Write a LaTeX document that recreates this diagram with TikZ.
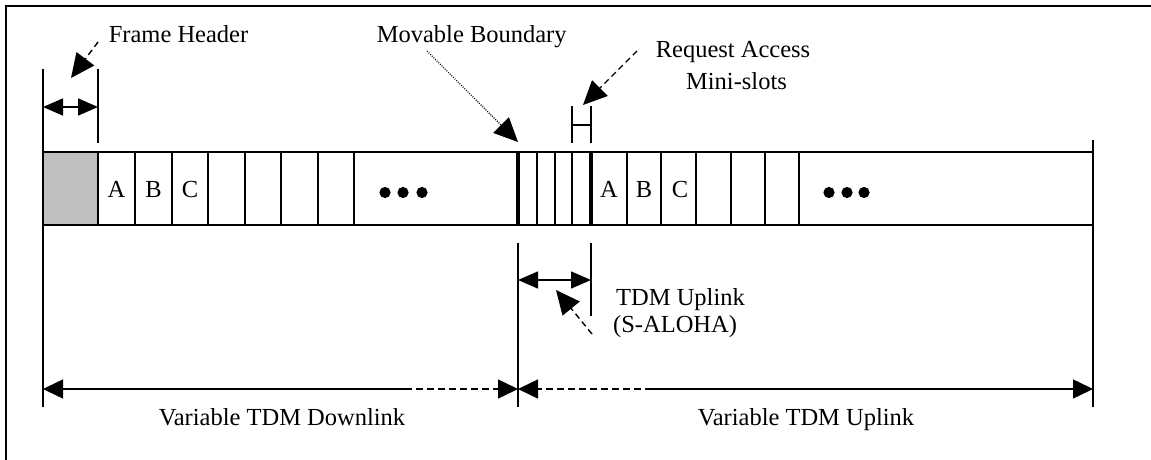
\documentclass[tikz,border=0pt]{standalone}
\usepackage{fontspec}
\setmainfont{Liberation Serif}
\usetikzlibrary{arrows.meta}
\tikzset{
  lbl/.style={font=\fontsize{24.5}{28}\selectfont, inner sep=0pt, anchor=base},
  outline/.style={line width=1.8pt},
  slotline/.style={line width=1.3pt},
  thickline/.style={line width=4.5pt},
  guide/.style={line width=1.5pt},
  dimtip/.style={-{Triangle[length=20pt,width=17pt]}},
  bigtip/.style={-{Triangle[length=20pt,width=19pt]}},
  dashedarr/.style={line width=1.4pt, dash pattern=on 6pt off 4pt, -{Triangle[length=24pt,width=22pt]}},
  dottedarr/.style={line width=1.1pt, dash pattern=on 1pt off 1.3pt, -{Triangle[length=24pt,width=22pt]}},
  dotmark/.style={fill=black, draw=none},
}
\begin{document}
\begin{tikzpicture}[x=1pt,y=-1pt]
\useasboundingbox (0,0) rectangle (1151,460);
% outer frame (top and left edges)
\draw[line width=1.6pt] (6,460) -- (6,6) -- (1151,6);

% header fill
\fill[gray!50] (43,152) rectangle (98,225);
% bar
\draw[outline] (43,152) rectangle (1093,225);
\foreach \x in {98,135,172,208,245,281,318,354,537,555,572,627,661,696,731,765,799}
  \draw[slotline] (\x,152) -- (\x,225);
\draw[thickline] (518,152) -- (518,225);
\draw[thickline] (591,152) -- (591,225);

% slot letters
\node[lbl] (a1) at (116.5,197) {A};
\node[lbl] (b1) at (153.5,197) {B};
\node[lbl] (c1) at (190,197) {C};
\node[lbl] (a2) at (609,197) {A};
\node[lbl] (b2) at (644,197) {B};
\node[lbl] (c2) at (680,197) {C};

% ellipsis dots
\foreach \x in {385,403,422,829,847,864}
  \fill[dotmark] (\x,192.5) circle (5.6);

% guide verticals
\coordinate (hl) at (43,69);
\coordinate (hlb) at (43,407);
\coordinate (hr) at (98,69);
\coordinate (hrb) at (98,143);
\draw[guide] (hl) -- (hlb);
\draw[guide] (hr) -- (hrb);
\coordinate (mt) at (518,243);
\coordinate (mb) at (518,407);
\draw[guide] (mt) -- (mb);
\coordinate (st) at (591,243);
\coordinate (sb) at (591,316);
\draw[guide] (st) -- (sb);
\coordinate (rt) at (1093,140);
\coordinate (rb) at (1093,407);
\draw[guide] (rt) -- (rb);

% frame header dimension
\coordinate (fh1) at (43,107);
\coordinate (fh2) at (98,107);
\coordinate (fhm) at (70.5,107);
\draw[guide, dimtip] (fhm) -- (fh1);
\draw[guide, dimtip] (fhm) -- (fh2);

% mini-slot marker
\coordinate (ms1) at (572,106);
\coordinate (ms1b) at (572,143);
\coordinate (ms2) at (591,106);
\coordinate (ms2b) at (591,143);
\draw[slotline] (ms1) -- (ms1b);
\draw[slotline] (ms2) -- (ms2b);
\draw[slotline] (572,125) -- (591,125);

% TDM uplink (S-ALOHA) dimension
\coordinate (ta) at (518,280);
\coordinate (tb) at (591,280);
\coordinate (tm) at (554.5,280);
\draw[guide, dimtip] (tm) -- (ta);
\draw[guide, dimtip] (tm) -- (tb);

% labels
\node[lbl] (fh) at (178.5,43) {Frame Header};
\node[lbl] (mbd) at (471.7,43) {Movable Boundary};
\node[lbl] (ra) at (733,58) {Request Access};
\node[lbl] (msl) at (736.5,89) {Mini-slots};
\node[lbl, anchor=base west] (tu) at (616,305) {TDM Uplink};
\node[lbl, anchor=base west] (sa) at (613,332) {(S-ALOHA)};
\node[lbl] (vd) at (282,425) {Variable TDM Downlink};
\node[lbl] (vu) at (806,425) {Variable TDM Uplink};

% pointer arrows
\coordinate (fhs) at (98,42);
\coordinate (fht) at (71,78);
\draw[dashedarr] (fhs) -- (fht);
\coordinate (mbs) at (427,51);
\coordinate (mbt) at (518,142);
\draw[dottedarr] (mbs) -- (mbt);
\coordinate (ras) at (637,51);
\coordinate (rat) at (583,105);
\draw[dashedarr] (ras) -- (rat);
\coordinate (tus) at (592,334);
\coordinate (tut) at (556,290);
\draw[dashedarr] (tus) -- (tut);

% bottom span arrows
\coordinate (dl) at (43,389);
\coordinate (dsw) at (405,389);
\coordinate (dm) at (518,389);
\coordinate (usw) at (652,389);
\coordinate (ur) at (1093,389);
\draw[guide, bigtip] (dsw) -- (dl);
\draw[guide, bigtip, dash pattern=on 7pt off 4pt] (dsw) -- (dm);
\draw[guide, bigtip, dash pattern=on 7pt off 4pt] (usw) -- (dm);
\draw[guide, bigtip] (usw) -- (ur);
\end{tikzpicture}
\end{document}
